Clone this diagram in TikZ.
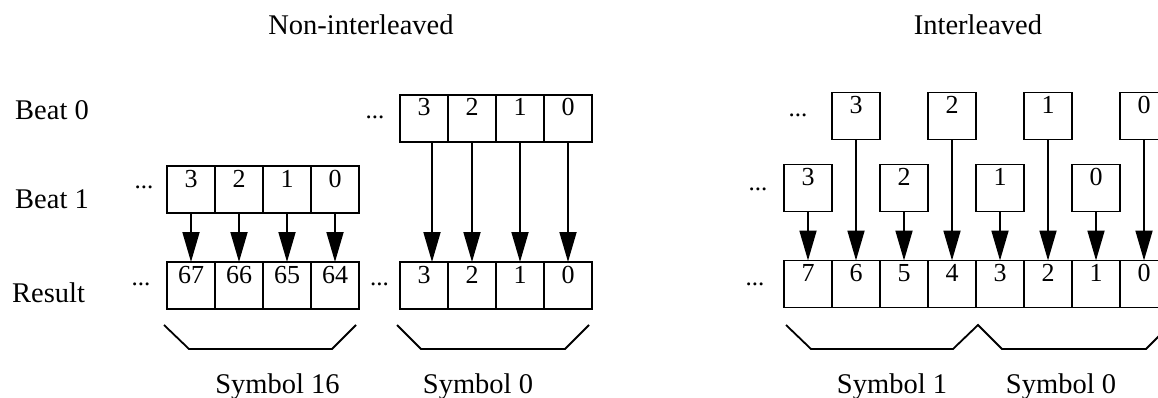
\documentclass[tikz,border=0pt]{standalone}
\usepackage{fontspec}
\setmainfont{Liberation Serif}
\usetikzlibrary{arrows.meta}
\tikzset{
    mycell/.style = {rectangle, line width=1.8pt, draw=black, minimum width=48pt, inner sep=0pt, outer sep=0pt, text height=21pt, text depth=26pt, font=\fontsize{26}{26}\selectfont, text=black},
    mydots/.style = {inner sep=0pt, anchor=base, font=\fontsize{25}{25}\selectfont},
    mylabel/.style = {inner sep=0pt, anchor=base west, font=\fontsize{28.5}{30}\selectfont},
    mytitle/.style = {inner sep=0pt, anchor=base, font=\fontsize{28.5}{30}\selectfont},
    edgea/.style = {-{Triangle[length=30pt,width=17pt]}, line width=1.8pt, black},
    edgek/.style = {-, line width=1.8pt, black}
}

\begin{document}
\begin{tikzpicture}[x=1pt,y=-1pt]
\useasboundingbox (0,0) rectangle (1158,398);
\clip (0,0) rectangle (1158,398);
% titles and row labels
\node[mytitle] at (361, 35) (title1) {Non-interleaved};
\node[mytitle] at (978, 35) (title2) {Interleaved};
\node[mylabel] at (15, 120) (beat0) {Beat 0};
\node[mylabel] at (15, 208) (beat1) {Beat 1};
\node[mylabel] at (12, 302) (result) {Result};
%
\node[mycell] at (424, 118.5) (u3) {3};
\node[mycell] at (472, 118.5) (u2) {2};
\node[mycell] at (520, 118.5) (u1) {1};
\node[mycell] at (568, 118.5) (u0) {0};
\node[mycell] at (191, 189.5) (v3) {3};
\node[mycell] at (239, 189.5) (v2) {2};
\node[mycell] at (287, 189.5) (v1) {1};
\node[mycell] at (335, 189.5) (v0) {0};
\node[mycell] at (191, 285.5) (s67) {67};
\node[mycell] at (239, 285.5) (s66) {66};
\node[mycell] at (287, 285.5) (s65) {65};
\node[mycell] at (335, 285.5) (s64) {64};
\node[mycell] at (424, 285.5) (s3) {3};
\node[mycell] at (472, 285.5) (s2) {2};
\node[mycell] at (520, 285.5) (s1) {1};
\node[mycell] at (568, 285.5) (s0) {0};
%
\node[mycell] at (856, 116) (g3) {3};
\node[mycell] at (952, 116) (g2) {2};
\node[mycell] at (1048, 116) (g1) {1};
\node[mycell] at (1144, 116) (g0) {0};
\node[mycell] at (808, 188) (h3) {3};
\node[mycell] at (904, 188) (h2) {2};
\node[mycell] at (1000, 188) (h1) {1};
\node[mycell] at (1096, 188) (h0) {0};
\node[mycell] at (808, 284) (t7) {7};
\node[mycell] at (856, 284) (t6) {6};
\node[mycell] at (904, 284) (t5) {5};
\node[mycell] at (952, 284) (t4) {4};
\node[mycell] at (1000, 284) (t3) {3};
\node[mycell] at (1048, 284) (t2) {2};
\node[mycell] at (1096, 284) (t1) {1};
\node[mycell] at (1144, 284) (t0) {0};
% dots
\node[mydots] at (375, 119) (d1) {...};
\node[mydots] at (144, 189) (d2) {...};
\node[mydots] at (141, 285) (d3) {...};
\node[mydots] at (379.5, 285.5) (d4) {...};
\node[mydots] at (798, 117) (d5) {...};
\node[mydots] at (758, 190) (d6) {...};
\node[mydots] at (755, 285) (d7) {...};
%
\draw[edgea] (v3) -- (s67);
\draw[edgea] (v2) -- (s66);
\draw[edgea] (v1) -- (s65);
\draw[edgea] (v0) -- (s64);
\draw[edgea] ([xshift=8pt]u3.south) -- ([xshift=8pt]s3.north);
\draw[edgea] (u2) -- (s2);
\draw[edgea] (u1) -- (s1);
\draw[edgea] (u0) -- (s0);
\draw[edgea] (h3) -- (t7);
\draw[edgea] (g3) -- (t6);
\draw[edgea] (h2) -- (t5);
\draw[edgea] (g2) -- (t4);
\draw[edgea] (h1) -- (t3);
\draw[edgea] (g1) -- (t2);
\draw[edgea] (h0) -- (t1);
\draw[edgea] (g0) -- (t0);
% brackets
\draw[edgek] (164, 325) -- (189, 349) -- (332, 349) -- (356, 325);
\draw[edgek] (397, 325) -- (421, 349) -- (565, 349) -- (589, 325);
\draw[edgek] (786, 325) -- (811, 349) -- (953, 349) -- (978, 325) -- (1002, 349) -- (1146, 349) -- (1170, 325);
%
\node[mytitle] at (277.5, 393) (sym16) {Symbol 16};
\node[mytitle] at (478, 393) (sym0) {Symbol 0};
\node[mytitle] at (892, 393) (sym1) {Symbol 1};
\node[mytitle] at (1061, 393) (sym0b) {Symbol 0};
\end{tikzpicture}
\end{document}
